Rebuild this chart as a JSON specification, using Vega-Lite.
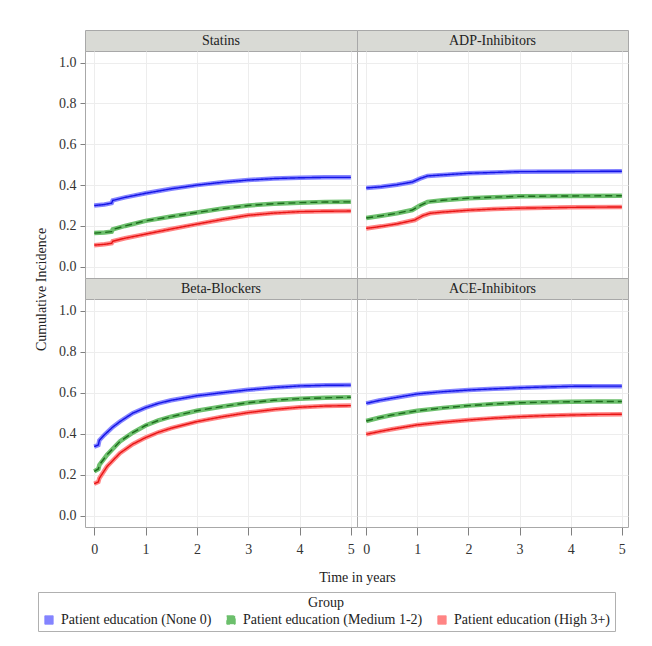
{
  "$schema": "https://vega.github.io/schema/vega-lite/v6.json",
  "padding": {"left": 34, "top": 29, "right": 5, "bottom": 5},
  "background": "white",
  "config": {
    "font": "Liberation Serif",
    "view": {"stroke": "#a8a8a8", "strokeWidth": 1},
    "axis": {
      "labelFont": "Liberation Serif", "labelFontSize": 14, "labelColor": "#333333",
      "tickColor": "#808080", "domain": false, "gridColor": "#ededed",
      "titleFont": "Liberation Serif", "titleFontSize": 14, "titleFontWeight": "normal", "titleColor": "#222222"
    },
    "concat": {"spacing": 0}
  },
  "datasets": {
    "curves": [
      {"drug": "Statins", "group": "Patient education (None 0)", "t": 0, "ci": 0.300},
      {"drug": "Statins", "group": "Patient education (None 0)", "t": 0.2, "ci": 0.305},
      {"drug": "Statins", "group": "Patient education (None 0)", "t": 0.34, "ci": 0.312},
      {"drug": "Statins", "group": "Patient education (None 0)", "t": 0.36, "ci": 0.325},
      {"drug": "Statins", "group": "Patient education (None 0)", "t": 0.6, "ci": 0.340},
      {"drug": "Statins", "group": "Patient education (None 0)", "t": 1, "ci": 0.360},
      {"drug": "Statins", "group": "Patient education (None 0)", "t": 1.5, "ci": 0.382},
      {"drug": "Statins", "group": "Patient education (None 0)", "t": 2, "ci": 0.400},
      {"drug": "Statins", "group": "Patient education (None 0)", "t": 2.5, "ci": 0.414},
      {"drug": "Statins", "group": "Patient education (None 0)", "t": 3, "ci": 0.425},
      {"drug": "Statins", "group": "Patient education (None 0)", "t": 3.5, "ci": 0.432},
      {"drug": "Statins", "group": "Patient education (None 0)", "t": 4, "ci": 0.436},
      {"drug": "Statins", "group": "Patient education (None 0)", "t": 4.5, "ci": 0.438},
      {"drug": "Statins", "group": "Patient education (None 0)", "t": 5, "ci": 0.438},
      {"drug": "Statins", "group": "Patient education (Medium 1-2)", "t": 0, "ci": 0.165},
      {"drug": "Statins", "group": "Patient education (Medium 1-2)", "t": 0.2, "ci": 0.168},
      {"drug": "Statins", "group": "Patient education (Medium 1-2)", "t": 0.34, "ci": 0.172},
      {"drug": "Statins", "group": "Patient education (Medium 1-2)", "t": 0.36, "ci": 0.183},
      {"drug": "Statins", "group": "Patient education (Medium 1-2)", "t": 0.6, "ci": 0.200},
      {"drug": "Statins", "group": "Patient education (Medium 1-2)", "t": 1, "ci": 0.225},
      {"drug": "Statins", "group": "Patient education (Medium 1-2)", "t": 1.5, "ci": 0.246},
      {"drug": "Statins", "group": "Patient education (Medium 1-2)", "t": 2, "ci": 0.266},
      {"drug": "Statins", "group": "Patient education (Medium 1-2)", "t": 2.5, "ci": 0.285},
      {"drug": "Statins", "group": "Patient education (Medium 1-2)", "t": 3, "ci": 0.300},
      {"drug": "Statins", "group": "Patient education (Medium 1-2)", "t": 3.5, "ci": 0.309},
      {"drug": "Statins", "group": "Patient education (Medium 1-2)", "t": 4, "ci": 0.314},
      {"drug": "Statins", "group": "Patient education (Medium 1-2)", "t": 4.5, "ci": 0.317},
      {"drug": "Statins", "group": "Patient education (Medium 1-2)", "t": 5, "ci": 0.318},
      {"drug": "Statins", "group": "Patient education (High 3+)", "t": 0, "ci": 0.106},
      {"drug": "Statins", "group": "Patient education (High 3+)", "t": 0.2, "ci": 0.110},
      {"drug": "Statins", "group": "Patient education (High 3+)", "t": 0.34, "ci": 0.115},
      {"drug": "Statins", "group": "Patient education (High 3+)", "t": 0.36, "ci": 0.125},
      {"drug": "Statins", "group": "Patient education (High 3+)", "t": 0.6, "ci": 0.140},
      {"drug": "Statins", "group": "Patient education (High 3+)", "t": 1, "ci": 0.160},
      {"drug": "Statins", "group": "Patient education (High 3+)", "t": 1.5, "ci": 0.185},
      {"drug": "Statins", "group": "Patient education (High 3+)", "t": 2, "ci": 0.209},
      {"drug": "Statins", "group": "Patient education (High 3+)", "t": 2.5, "ci": 0.232},
      {"drug": "Statins", "group": "Patient education (High 3+)", "t": 3, "ci": 0.252},
      {"drug": "Statins", "group": "Patient education (High 3+)", "t": 3.5, "ci": 0.263},
      {"drug": "Statins", "group": "Patient education (High 3+)", "t": 4, "ci": 0.270},
      {"drug": "Statins", "group": "Patient education (High 3+)", "t": 4.5, "ci": 0.272},
      {"drug": "Statins", "group": "Patient education (High 3+)", "t": 5, "ci": 0.273},

      {"drug": "ADP-Inhibitors", "group": "Patient education (None 0)", "t": 0, "ci": 0.386},
      {"drug": "ADP-Inhibitors", "group": "Patient education (None 0)", "t": 0.3, "ci": 0.392},
      {"drug": "ADP-Inhibitors", "group": "Patient education (None 0)", "t": 0.6, "ci": 0.402},
      {"drug": "ADP-Inhibitors", "group": "Patient education (None 0)", "t": 0.9, "ci": 0.415},
      {"drug": "ADP-Inhibitors", "group": "Patient education (None 0)", "t": 1.05, "ci": 0.432},
      {"drug": "ADP-Inhibitors", "group": "Patient education (None 0)", "t": 1.2, "ci": 0.445},
      {"drug": "ADP-Inhibitors", "group": "Patient education (None 0)", "t": 1.5, "ci": 0.450},
      {"drug": "ADP-Inhibitors", "group": "Patient education (None 0)", "t": 2, "ci": 0.458},
      {"drug": "ADP-Inhibitors", "group": "Patient education (None 0)", "t": 2.5, "ci": 0.462},
      {"drug": "ADP-Inhibitors", "group": "Patient education (None 0)", "t": 3, "ci": 0.466},
      {"drug": "ADP-Inhibitors", "group": "Patient education (None 0)", "t": 4, "ci": 0.467},
      {"drug": "ADP-Inhibitors", "group": "Patient education (None 0)", "t": 5, "ci": 0.468},
      {"drug": "ADP-Inhibitors", "group": "Patient education (Medium 1-2)", "t": 0, "ci": 0.239},
      {"drug": "ADP-Inhibitors", "group": "Patient education (Medium 1-2)", "t": 0.3, "ci": 0.250},
      {"drug": "ADP-Inhibitors", "group": "Patient education (Medium 1-2)", "t": 0.6, "ci": 0.262},
      {"drug": "ADP-Inhibitors", "group": "Patient education (Medium 1-2)", "t": 0.9, "ci": 0.278},
      {"drug": "ADP-Inhibitors", "group": "Patient education (Medium 1-2)", "t": 1.05, "ci": 0.300},
      {"drug": "ADP-Inhibitors", "group": "Patient education (Medium 1-2)", "t": 1.2, "ci": 0.318},
      {"drug": "ADP-Inhibitors", "group": "Patient education (Medium 1-2)", "t": 1.5, "ci": 0.326},
      {"drug": "ADP-Inhibitors", "group": "Patient education (Medium 1-2)", "t": 2, "ci": 0.336},
      {"drug": "ADP-Inhibitors", "group": "Patient education (Medium 1-2)", "t": 2.5, "ci": 0.341},
      {"drug": "ADP-Inhibitors", "group": "Patient education (Medium 1-2)", "t": 3, "ci": 0.345},
      {"drug": "ADP-Inhibitors", "group": "Patient education (Medium 1-2)", "t": 4, "ci": 0.347},
      {"drug": "ADP-Inhibitors", "group": "Patient education (Medium 1-2)", "t": 5, "ci": 0.348},
      {"drug": "ADP-Inhibitors", "group": "Patient education (High 3+)", "t": 0, "ci": 0.188},
      {"drug": "ADP-Inhibitors", "group": "Patient education (High 3+)", "t": 0.3, "ci": 0.198},
      {"drug": "ADP-Inhibitors", "group": "Patient education (High 3+)", "t": 0.6, "ci": 0.210},
      {"drug": "ADP-Inhibitors", "group": "Patient education (High 3+)", "t": 0.95, "ci": 0.229},
      {"drug": "ADP-Inhibitors", "group": "Patient education (High 3+)", "t": 1.1, "ci": 0.250},
      {"drug": "ADP-Inhibitors", "group": "Patient education (High 3+)", "t": 1.25, "ci": 0.262},
      {"drug": "ADP-Inhibitors", "group": "Patient education (High 3+)", "t": 1.5, "ci": 0.268},
      {"drug": "ADP-Inhibitors", "group": "Patient education (High 3+)", "t": 2, "ci": 0.277},
      {"drug": "ADP-Inhibitors", "group": "Patient education (High 3+)", "t": 2.5, "ci": 0.283},
      {"drug": "ADP-Inhibitors", "group": "Patient education (High 3+)", "t": 3, "ci": 0.287},
      {"drug": "ADP-Inhibitors", "group": "Patient education (High 3+)", "t": 4, "ci": 0.291},
      {"drug": "ADP-Inhibitors", "group": "Patient education (High 3+)", "t": 5, "ci": 0.293},

      {"drug": "Beta-Blockers", "group": "Patient education (None 0)", "t": 0, "ci": 0.337},
      {"drug": "Beta-Blockers", "group": "Patient education (None 0)", "t": 0.08, "ci": 0.345},
      {"drug": "Beta-Blockers", "group": "Patient education (None 0)", "t": 0.1, "ci": 0.368},
      {"drug": "Beta-Blockers", "group": "Patient education (None 0)", "t": 0.2, "ci": 0.395},
      {"drug": "Beta-Blockers", "group": "Patient education (None 0)", "t": 0.35, "ci": 0.430},
      {"drug": "Beta-Blockers", "group": "Patient education (None 0)", "t": 0.5, "ci": 0.459},
      {"drug": "Beta-Blockers", "group": "Patient education (None 0)", "t": 0.75, "ci": 0.500},
      {"drug": "Beta-Blockers", "group": "Patient education (None 0)", "t": 1, "ci": 0.527},
      {"drug": "Beta-Blockers", "group": "Patient education (None 0)", "t": 1.25, "ci": 0.548},
      {"drug": "Beta-Blockers", "group": "Patient education (None 0)", "t": 1.5, "ci": 0.563},
      {"drug": "Beta-Blockers", "group": "Patient education (None 0)", "t": 2, "ci": 0.585},
      {"drug": "Beta-Blockers", "group": "Patient education (None 0)", "t": 2.5, "ci": 0.600},
      {"drug": "Beta-Blockers", "group": "Patient education (None 0)", "t": 3, "ci": 0.614},
      {"drug": "Beta-Blockers", "group": "Patient education (None 0)", "t": 3.5, "ci": 0.625},
      {"drug": "Beta-Blockers", "group": "Patient education (None 0)", "t": 4, "ci": 0.633},
      {"drug": "Beta-Blockers", "group": "Patient education (None 0)", "t": 4.5, "ci": 0.636},
      {"drug": "Beta-Blockers", "group": "Patient education (None 0)", "t": 5, "ci": 0.637},
      {"drug": "Beta-Blockers", "group": "Patient education (Medium 1-2)", "t": 0, "ci": 0.216},
      {"drug": "Beta-Blockers", "group": "Patient education (Medium 1-2)", "t": 0.08, "ci": 0.228},
      {"drug": "Beta-Blockers", "group": "Patient education (Medium 1-2)", "t": 0.1, "ci": 0.248},
      {"drug": "Beta-Blockers", "group": "Patient education (Medium 1-2)", "t": 0.25, "ci": 0.297},
      {"drug": "Beta-Blockers", "group": "Patient education (Medium 1-2)", "t": 0.5, "ci": 0.362},
      {"drug": "Beta-Blockers", "group": "Patient education (Medium 1-2)", "t": 0.75, "ci": 0.405},
      {"drug": "Beta-Blockers", "group": "Patient education (Medium 1-2)", "t": 1, "ci": 0.440},
      {"drug": "Beta-Blockers", "group": "Patient education (Medium 1-2)", "t": 1.25, "ci": 0.465},
      {"drug": "Beta-Blockers", "group": "Patient education (Medium 1-2)", "t": 1.5, "ci": 0.483},
      {"drug": "Beta-Blockers", "group": "Patient education (Medium 1-2)", "t": 2, "ci": 0.512},
      {"drug": "Beta-Blockers", "group": "Patient education (Medium 1-2)", "t": 2.5, "ci": 0.533},
      {"drug": "Beta-Blockers", "group": "Patient education (Medium 1-2)", "t": 3, "ci": 0.551},
      {"drug": "Beta-Blockers", "group": "Patient education (Medium 1-2)", "t": 3.5, "ci": 0.563},
      {"drug": "Beta-Blockers", "group": "Patient education (Medium 1-2)", "t": 4, "ci": 0.571},
      {"drug": "Beta-Blockers", "group": "Patient education (Medium 1-2)", "t": 4.5, "ci": 0.575},
      {"drug": "Beta-Blockers", "group": "Patient education (Medium 1-2)", "t": 5, "ci": 0.578},
      {"drug": "Beta-Blockers", "group": "Patient education (High 3+)", "t": 0, "ci": 0.156},
      {"drug": "Beta-Blockers", "group": "Patient education (High 3+)", "t": 0.08, "ci": 0.165},
      {"drug": "Beta-Blockers", "group": "Patient education (High 3+)", "t": 0.1, "ci": 0.183},
      {"drug": "Beta-Blockers", "group": "Patient education (High 3+)", "t": 0.25, "ci": 0.240},
      {"drug": "Beta-Blockers", "group": "Patient education (High 3+)", "t": 0.5, "ci": 0.305},
      {"drug": "Beta-Blockers", "group": "Patient education (High 3+)", "t": 0.75, "ci": 0.349},
      {"drug": "Beta-Blockers", "group": "Patient education (High 3+)", "t": 1, "ci": 0.381},
      {"drug": "Beta-Blockers", "group": "Patient education (High 3+)", "t": 1.25, "ci": 0.407},
      {"drug": "Beta-Blockers", "group": "Patient education (High 3+)", "t": 1.5, "ci": 0.427},
      {"drug": "Beta-Blockers", "group": "Patient education (High 3+)", "t": 2, "ci": 0.459},
      {"drug": "Beta-Blockers", "group": "Patient education (High 3+)", "t": 2.5, "ci": 0.483},
      {"drug": "Beta-Blockers", "group": "Patient education (High 3+)", "t": 3, "ci": 0.503},
      {"drug": "Beta-Blockers", "group": "Patient education (High 3+)", "t": 3.5, "ci": 0.518},
      {"drug": "Beta-Blockers", "group": "Patient education (High 3+)", "t": 4, "ci": 0.529},
      {"drug": "Beta-Blockers", "group": "Patient education (High 3+)", "t": 4.5, "ci": 0.535},
      {"drug": "Beta-Blockers", "group": "Patient education (High 3+)", "t": 5, "ci": 0.537},

      {"drug": "ACE-Inhibitors", "group": "Patient education (None 0)", "t": 0, "ci": 0.548},
      {"drug": "ACE-Inhibitors", "group": "Patient education (None 0)", "t": 0.25, "ci": 0.562},
      {"drug": "ACE-Inhibitors", "group": "Patient education (None 0)", "t": 0.5, "ci": 0.573},
      {"drug": "ACE-Inhibitors", "group": "Patient education (None 0)", "t": 1, "ci": 0.594},
      {"drug": "ACE-Inhibitors", "group": "Patient education (None 0)", "t": 1.5, "ci": 0.605},
      {"drug": "ACE-Inhibitors", "group": "Patient education (None 0)", "t": 2, "ci": 0.613},
      {"drug": "ACE-Inhibitors", "group": "Patient education (None 0)", "t": 2.5, "ci": 0.619},
      {"drug": "ACE-Inhibitors", "group": "Patient education (None 0)", "t": 3, "ci": 0.624},
      {"drug": "ACE-Inhibitors", "group": "Patient education (None 0)", "t": 3.5, "ci": 0.628},
      {"drug": "ACE-Inhibitors", "group": "Patient education (None 0)", "t": 4, "ci": 0.631},
      {"drug": "ACE-Inhibitors", "group": "Patient education (None 0)", "t": 4.5, "ci": 0.632},
      {"drug": "ACE-Inhibitors", "group": "Patient education (None 0)", "t": 5, "ci": 0.632},
      {"drug": "ACE-Inhibitors", "group": "Patient education (Medium 1-2)", "t": 0, "ci": 0.462},
      {"drug": "ACE-Inhibitors", "group": "Patient education (Medium 1-2)", "t": 0.25, "ci": 0.478},
      {"drug": "ACE-Inhibitors", "group": "Patient education (Medium 1-2)", "t": 0.5, "ci": 0.491},
      {"drug": "ACE-Inhibitors", "group": "Patient education (Medium 1-2)", "t": 1, "ci": 0.512},
      {"drug": "ACE-Inhibitors", "group": "Patient education (Medium 1-2)", "t": 1.5, "ci": 0.526},
      {"drug": "ACE-Inhibitors", "group": "Patient education (Medium 1-2)", "t": 2, "ci": 0.537},
      {"drug": "ACE-Inhibitors", "group": "Patient education (Medium 1-2)", "t": 2.5, "ci": 0.545},
      {"drug": "ACE-Inhibitors", "group": "Patient education (Medium 1-2)", "t": 3, "ci": 0.551},
      {"drug": "ACE-Inhibitors", "group": "Patient education (Medium 1-2)", "t": 3.5, "ci": 0.554},
      {"drug": "ACE-Inhibitors", "group": "Patient education (Medium 1-2)", "t": 4, "ci": 0.556},
      {"drug": "ACE-Inhibitors", "group": "Patient education (Medium 1-2)", "t": 4.5, "ci": 0.557},
      {"drug": "ACE-Inhibitors", "group": "Patient education (Medium 1-2)", "t": 5, "ci": 0.557},
      {"drug": "ACE-Inhibitors", "group": "Patient education (High 3+)", "t": 0, "ci": 0.397},
      {"drug": "ACE-Inhibitors", "group": "Patient education (High 3+)", "t": 0.25, "ci": 0.410},
      {"drug": "ACE-Inhibitors", "group": "Patient education (High 3+)", "t": 0.5, "ci": 0.422},
      {"drug": "ACE-Inhibitors", "group": "Patient education (High 3+)", "t": 1, "ci": 0.443},
      {"drug": "ACE-Inhibitors", "group": "Patient education (High 3+)", "t": 1.5, "ci": 0.456},
      {"drug": "ACE-Inhibitors", "group": "Patient education (High 3+)", "t": 2, "ci": 0.467},
      {"drug": "ACE-Inhibitors", "group": "Patient education (High 3+)", "t": 2.5, "ci": 0.476},
      {"drug": "ACE-Inhibitors", "group": "Patient education (High 3+)", "t": 3, "ci": 0.483},
      {"drug": "ACE-Inhibitors", "group": "Patient education (High 3+)", "t": 3.5, "ci": 0.488},
      {"drug": "ACE-Inhibitors", "group": "Patient education (High 3+)", "t": 4, "ci": 0.491},
      {"drug": "ACE-Inhibitors", "group": "Patient education (High 3+)", "t": 4.5, "ci": 0.494},
      {"drug": "ACE-Inhibitors", "group": "Patient education (High 3+)", "t": 5, "ci": 0.495}
    ]
  },
  "bounds": "flush",
  "columns": 2,
  "concat": [
    {
      "width": 272, "height": 21,
      "view": {"fill": "#d9dad5", "stroke": "#a8a8a8"},
      "data": {"values": [{"panel": "Statins"}]},
      "mark": {"type": "text", "font": "Liberation Serif", "fontSize": 14, "color": "#222222"},
      "encoding": {"text": {"field": "panel", "type": "nominal"}}
    },
    {
      "width": 271, "height": 21,
      "view": {"fill": "#d9dad5", "stroke": "#a8a8a8"},
      "data": {"values": [{"panel": "ADP-Inhibitors"}]},
      "mark": {"type": "text", "font": "Liberation Serif", "fontSize": 14, "color": "#222222"},
      "encoding": {"text": {"field": "panel", "type": "nominal"}}
    },
    {
      "width": 272, "height": 227,
      "data": {"name": "curves"},
      "transform": [{"filter": "datum.drug === 'Statins'"}],
      "encoding": {
        "x": {"field": "t", "type": "quantitative", "scale": {"domain": [-0.18, 5.12], "nice": false, "zero": false},
              "axis": {"values": [0, 1, 2, 3, 4, 5], "labels": false, "ticks": false, "title": null, "grid": true}},
        "y": {"field": "ci", "type": "quantitative", "scale": {"domain": [-0.055, 1.057], "nice": false},
              "axis": {"values": [0, 0.2, 0.4, 0.6, 0.8, 1.0], "format": ".1f", "tickSize": 5, "labelPadding": 4, "grid": true,
                       "title": "Cumulative Incidence", "titleY": 238, "titlePadding": 10}}
      },
      "layer": [
        {"mark": {"type": "line", "strokeWidth": 4.5},
         "encoding": {"color": {"field": "group", "type": "nominal",
            "scale": {"domain": ["Patient education (None 0)", "Patient education (Medium 1-2)", "Patient education (High 3+)"], "range": ["#8484ff", "#6cbf6c", "#ff8484"]},
            "legend": {"orient": "none", "legendX": -47, "legendY": 562, "direction": "horizontal", "title": "Group",
              "titleAnchor": "middle", "titleOrient": "top", "titleFontWeight": "normal", "titleFontSize": 14, "titleFont": "Liberation Serif", "titleColor": "#222222", "titlePadding": 3,
              "labelFont": "Liberation Serif", "labelFontSize": 14, "labelColor": "#222222", "labelLimit": 300, "labelOffset": 5,
              "symbolType": "square", "symbolSize": 70, "symbolStrokeWidth": 1, "columnPadding": 12,
              "strokeColor": "#b0b0b0", "padding": 4,
              "encode": {"symbols": {"update": {"fill": {"scale": "color", "field": "value"}, "stroke": {"value": "#333333"}, "strokeWidth": {"value": 1}, "opacity": {"value": 1}}}}}}}},
        {"mark": {"type": "line", "strokeWidth": 1.4},
         "encoding": {
           "stroke": {"field": "group", "type": "nominal", "scale": {"domain": ["Patient education (None 0)", "Patient education (Medium 1-2)", "Patient education (High 3+)"], "range": ["#1414e6", "#1d6b1d", "#e81414"]}, "legend": null},
           "strokeDash": {"field": "group", "type": "nominal", "scale": {"domain": ["Patient education (None 0)", "Patient education (Medium 1-2)", "Patient education (High 3+)"], "range": [[1, 0], [7, 4], [1, 0]]}, "legend": null}}}
      ]
    },
    {
      "width": 271, "height": 227,
      "data": {"name": "curves"},
      "transform": [{"filter": "datum.drug === 'ADP-Inhibitors'"}],
      "encoding": {
        "x": {"field": "t", "type": "quantitative", "scale": {"domain": [-0.18, 5.12], "nice": false, "zero": false},
              "axis": {"values": [0, 1, 2, 3, 4, 5], "labels": false, "ticks": false, "title": null, "grid": true}},
        "y": {"field": "ci", "type": "quantitative", "scale": {"domain": [-0.055, 1.057], "nice": false},
              "axis": {"values": [0, 0.2, 0.4, 0.6, 0.8, 1.0], "labels": false, "ticks": false, "title": null, "grid": true}}
      },
      "layer": [
        {"mark": {"type": "line", "strokeWidth": 4.5},
         "encoding": {"color": {"field": "group", "type": "nominal"}}},
        {"mark": {"type": "line", "strokeWidth": 1.4},
         "encoding": {
           "stroke": {"field": "group", "type": "nominal", "legend": null},
           "strokeDash": {"field": "group", "type": "nominal", "legend": null}}}
      ]
    },
    {
      "width": 272, "height": 21,
      "view": {"fill": "#d9dad5", "stroke": "#a8a8a8"},
      "data": {"values": [{"panel": "Beta-Blockers"}]},
      "mark": {"type": "text", "font": "Liberation Serif", "fontSize": 14, "color": "#222222"},
      "encoding": {"text": {"field": "panel", "type": "nominal"}}
    },
    {
      "width": 271, "height": 21,
      "view": {"fill": "#d9dad5", "stroke": "#a8a8a8"},
      "data": {"values": [{"panel": "ACE-Inhibitors"}]},
      "mark": {"type": "text", "font": "Liberation Serif", "fontSize": 14, "color": "#222222"},
      "encoding": {"text": {"field": "panel", "type": "nominal"}}
    },
    {
      "width": 272, "height": 228,
      "data": {"name": "curves"},
      "transform": [{"filter": "datum.drug === 'Beta-Blockers'"}],
      "encoding": {
        "x": {"field": "t", "type": "quantitative", "scale": {"domain": [-0.18, 5.12], "nice": false, "zero": false},
              "axis": {"values": [0, 1, 2, 3, 4, 5], "tickSize": 8, "labelPadding": 7, "grid": true,
                       "title": "Time in years", "titleX": 272, "titlePadding": 14}},
        "y": {"field": "ci", "type": "quantitative", "scale": {"domain": [-0.055, 1.057], "nice": false},
              "axis": {"values": [0, 0.2, 0.4, 0.6, 0.8, 1.0], "format": ".1f", "tickSize": 5, "labelPadding": 4, "grid": true, "title": null}}
      },
      "layer": [
        {"mark": {"type": "line", "strokeWidth": 4.5},
         "encoding": {"color": {"field": "group", "type": "nominal"}}},
        {"mark": {"type": "line", "strokeWidth": 1.4},
         "encoding": {
           "stroke": {"field": "group", "type": "nominal", "legend": null},
           "strokeDash": {"field": "group", "type": "nominal", "legend": null}}}
      ]
    },
    {
      "width": 271, "height": 228,
      "data": {"name": "curves"},
      "transform": [{"filter": "datum.drug === 'ACE-Inhibitors'"}],
      "encoding": {
        "x": {"field": "t", "type": "quantitative", "scale": {"domain": [-0.18, 5.12], "nice": false, "zero": false},
              "axis": {"values": [0, 1, 2, 3, 4, 5], "tickSize": 8, "labelPadding": 7, "grid": true, "title": null}},
        "y": {"field": "ci", "type": "quantitative", "scale": {"domain": [-0.055, 1.057], "nice": false},
              "axis": {"values": [0, 0.2, 0.4, 0.6, 0.8, 1.0], "labels": false, "ticks": false, "title": null, "grid": true}}
      },
      "layer": [
        {"mark": {"type": "line", "strokeWidth": 4.5},
         "encoding": {"color": {"field": "group", "type": "nominal"}}},
        {"mark": {"type": "line", "strokeWidth": 1.4},
         "encoding": {
           "stroke": {"field": "group", "type": "nominal", "legend": null},
           "strokeDash": {"field": "group", "type": "nominal", "legend": null}}}
      ]
    }
  ]
}
